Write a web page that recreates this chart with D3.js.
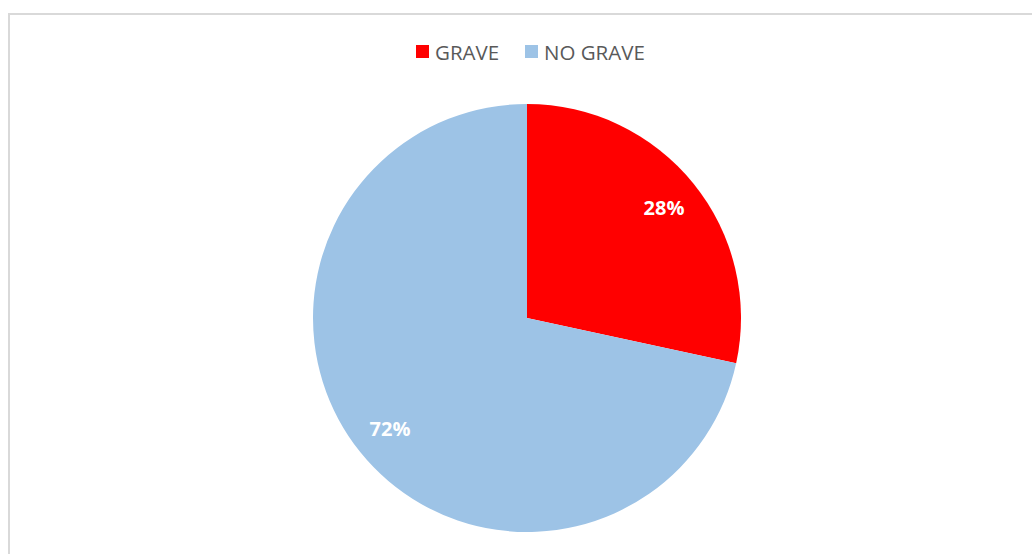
<!DOCTYPE html>
<html><head><meta charset="utf-8">
<script src="https://cdn.jsdelivr.net/npm/d3@7"></script>
<style>body{margin:0;background:#fff;}svg{display:block;}</style>
</head><body>
<svg id="c" width="1032" height="554"></svg>
<script>
const categories = ["GRAVE", "NO GRAVE"];
const values = [28.4, 71.6];
const labels = ["28%", "72%"];
const colors = ["#ff0000", "#9dc3e6"];

const svg = d3.select("#c");
svg.append("rect").attr("x", 9).attr("y", 14).attr("width", 1040).attr("height", 560)
  .attr("fill", "#fff").attr("stroke", "#d9d9d9").attr("stroke-width", 2);

const cx = 527, cy = 318, r = 214;
const pie = d3.pie().sort(null).value(d => d);
const arcs = pie(values);
const arc = d3.arc().innerRadius(0).outerRadius(r);
const labelArc = d3.arc().innerRadius(176).outerRadius(176);
const g = svg.append("g").attr("transform", `translate(${cx},${cy})`);
g.selectAll("path").data(arcs).join("path").attr("d", arc).attr("fill", (d, i) => colors[i]);
g.selectAll("text").data(arcs).join("text")
  .attr("transform", d => `translate(${labelArc.centroid(d)})`)
  .attr("text-anchor", "middle").attr("dominant-baseline", "central")
  .attr("font-family", "Open Sans, sans-serif").attr("font-weight", "bold")
  .attr("font-size", 20).attr("fill", "#fff")
  .text((d, i) => labels[i]);

const legendX = [416, 525];
const lg = svg.append("g");
categories.forEach((c, i) => {
  lg.append("rect").attr("x", legendX[i]).attr("y", 45).attr("width", 13).attr("height", 13).attr("fill", colors[i]);
  lg.append("text").attr("x", legendX[i] + 19).attr("y", 52).attr("dominant-baseline", "central")
    .attr("font-family", "Open Sans, sans-serif").attr("font-size", 20.5).attr("fill", "#595959").text(c);
});
</script>
</body></html>
